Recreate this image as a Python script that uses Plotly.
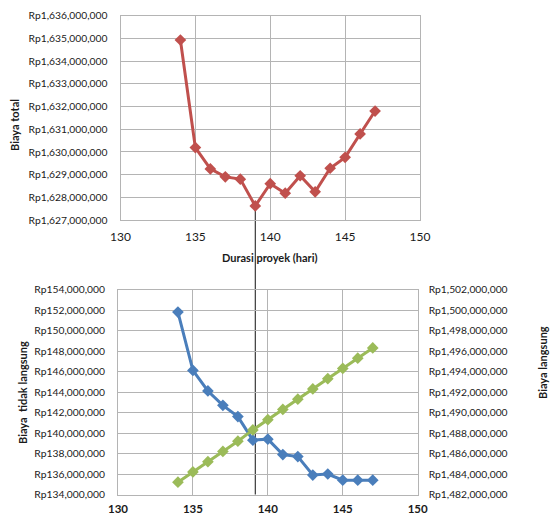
import plotly.graph_objects as go

# ---- data ----
durasi = [134, 135, 136, 137, 138, 139, 140, 141, 142, 143, 144, 145, 146, 147]
biaya_total = [1634.93e6, 1630.19e6, 1629.25e6, 1628.90e6, 1628.80e6, 1627.62e6, 1628.60e6,
               1628.18e6, 1628.95e6, 1628.24e6, 1629.28e6, 1629.76e6, 1630.79e6, 1631.80e6]
biaya_tidak_langsung = [151.8e6, 146.1e6, 144.1e6, 142.7e6, 141.6e6, 139.3e6, 139.4e6,
                        137.9e6, 137.7e6, 135.9e6, 136.0e6, 135.4e6, 135.4e6, 135.4e6]
biaya_langsung = [1483.2e6, 1484.2e6, 1485.2e6, 1486.2e6, 1487.2e6, 1488.3e6, 1489.3e6,
                  1490.3e6, 1491.3e6, 1492.3e6, 1493.3e6, 1494.3e6, 1495.3e6, 1496.3e6]

W, H = 550, 516
def px(x):
    return x / W
def py(y):
    return 1 - y / H

FONT = "Lato, 'Open Sans', sans-serif"
RED = "#C0504D"
BLUE = "#4A7EBB"
GREEN = "#9BBB59"
GRID = "#b4b4b4"
TXT = "#1a1a1a"
TF = 10.3

top_x = [px(120.5), px(420)]
top_y = [py(220), py(15.7)]
bot_x = [px(118), px(417.7)]
bot_y = [py(494.5), py(289.5)]

fig = go.Figure()
fig.add_trace(go.Scatter(x=durasi, y=biaya_total, mode="lines+markers", xaxis="x", yaxis="y",
                         line=dict(color=RED, width=3), marker=dict(symbol="diamond", size=9, color=RED),
                         showlegend=False))
fig.add_trace(go.Scatter(x=durasi, y=biaya_tidak_langsung, mode="lines+markers", xaxis="x2", yaxis="y2",
                         line=dict(color=BLUE, width=3), marker=dict(symbol="diamond", size=9, color=BLUE),
                         showlegend=False))
fig.add_trace(go.Scatter(x=durasi, y=biaya_langsung, mode="lines+markers", xaxis="x2", yaxis="y3",
                         line=dict(color=GREEN, width=3), marker=dict(symbol="diamond", size=9, color=GREEN),
                         showlegend=False))

common_x = dict(range=[130, 150], dtick=5, tick0=130, showgrid=True, gridcolor=GRID, gridwidth=1,
                showline=True, linecolor=GRID, linewidth=1, mirror=True, zeroline=False,
                ticks="", automargin=False)
common_y = dict(showgrid=True, gridcolor=GRID, gridwidth=1, showline=True, linecolor=GRID,
                linewidth=1, mirror=True, zeroline=False, ticks="", tickprefix="Rp",
                tickformat=",d", ticklabelstandoff=10, automargin=False,
                tickfont=dict(size=TF, color=TXT, family=FONT))

fig.update_layout(
    width=W, height=H, margin=dict(l=0, r=0, t=0, b=0),
    paper_bgcolor="white", plot_bgcolor="white",
    font=dict(family=FONT, size=11, color=TXT),
    xaxis=dict(domain=top_x, anchor="y", ticklabelstandoff=6,
               tickfont=dict(size=12, color=TXT, family=FONT), **common_x),
    yaxis=dict(domain=top_y, anchor="x", range=[1627e6, 1636e6], dtick=1e6, tick0=1627e6, **common_y),
    xaxis2=dict(domain=bot_x, anchor="y2", ticklabelstandoff=4,
                tickfont=dict(size=11.5, color=TXT, family=FONT, weight="bold"),
                **common_x),
    yaxis2=dict(domain=bot_y, anchor="x2", range=[134e6, 154e6], dtick=2e6, tick0=134e6, **common_y),
    yaxis3=dict(overlaying="y2", anchor="x2", side="right", range=[1482e6, 1502e6], dtick=2e6,
                tick0=1482e6, showgrid=False, zeroline=False, showline=False, ticks="",
                tickprefix="Rp", tickformat=",d", ticklabelstandoff=10, automargin=False,
                tickfont=dict(size=TF, color=TXT, family=FONT)),
)

# vertical line at the minimum total cost
imin = biaya_total.index(min(biaya_total))
xmin = durasi[imin]
xl = top_x[0] + (xmin - 130) / 20 * (top_x[1] - top_x[0])
yl_top = top_y[0] + (biaya_total[imin] - 1627e6) / 9e6 * (top_y[1] - top_y[0])
fig.add_shape(type="line", xref="paper", yref="paper", x0=xl, x1=xl, y0=bot_y[0], y1=yl_top,
              line=dict(color="#111111", width=1), layer="below")

ann = dict(xref="paper", yref="paper", showarrow=False, xanchor="center", yanchor="middle",
           font=dict(size=11, color=TXT, family=FONT))
fig.add_annotation(text="<b>Biaya total</b>", x=px(14), y=py(125), textangle=-90, **ann)
fig.add_annotation(text="<b>Durasi proyek (hari)</b>", x=px(270), y=py(257), **ann)
fig.add_annotation(text="<b>Biaya  tidak langsung</b>", x=px(22), y=py(393), textangle=-90, **ann)
fig.add_annotation(text="<b>Biaya langsung</b>", x=px(542), y=py(363), textangle=-90, **ann)

fig.write_html("out.html")
